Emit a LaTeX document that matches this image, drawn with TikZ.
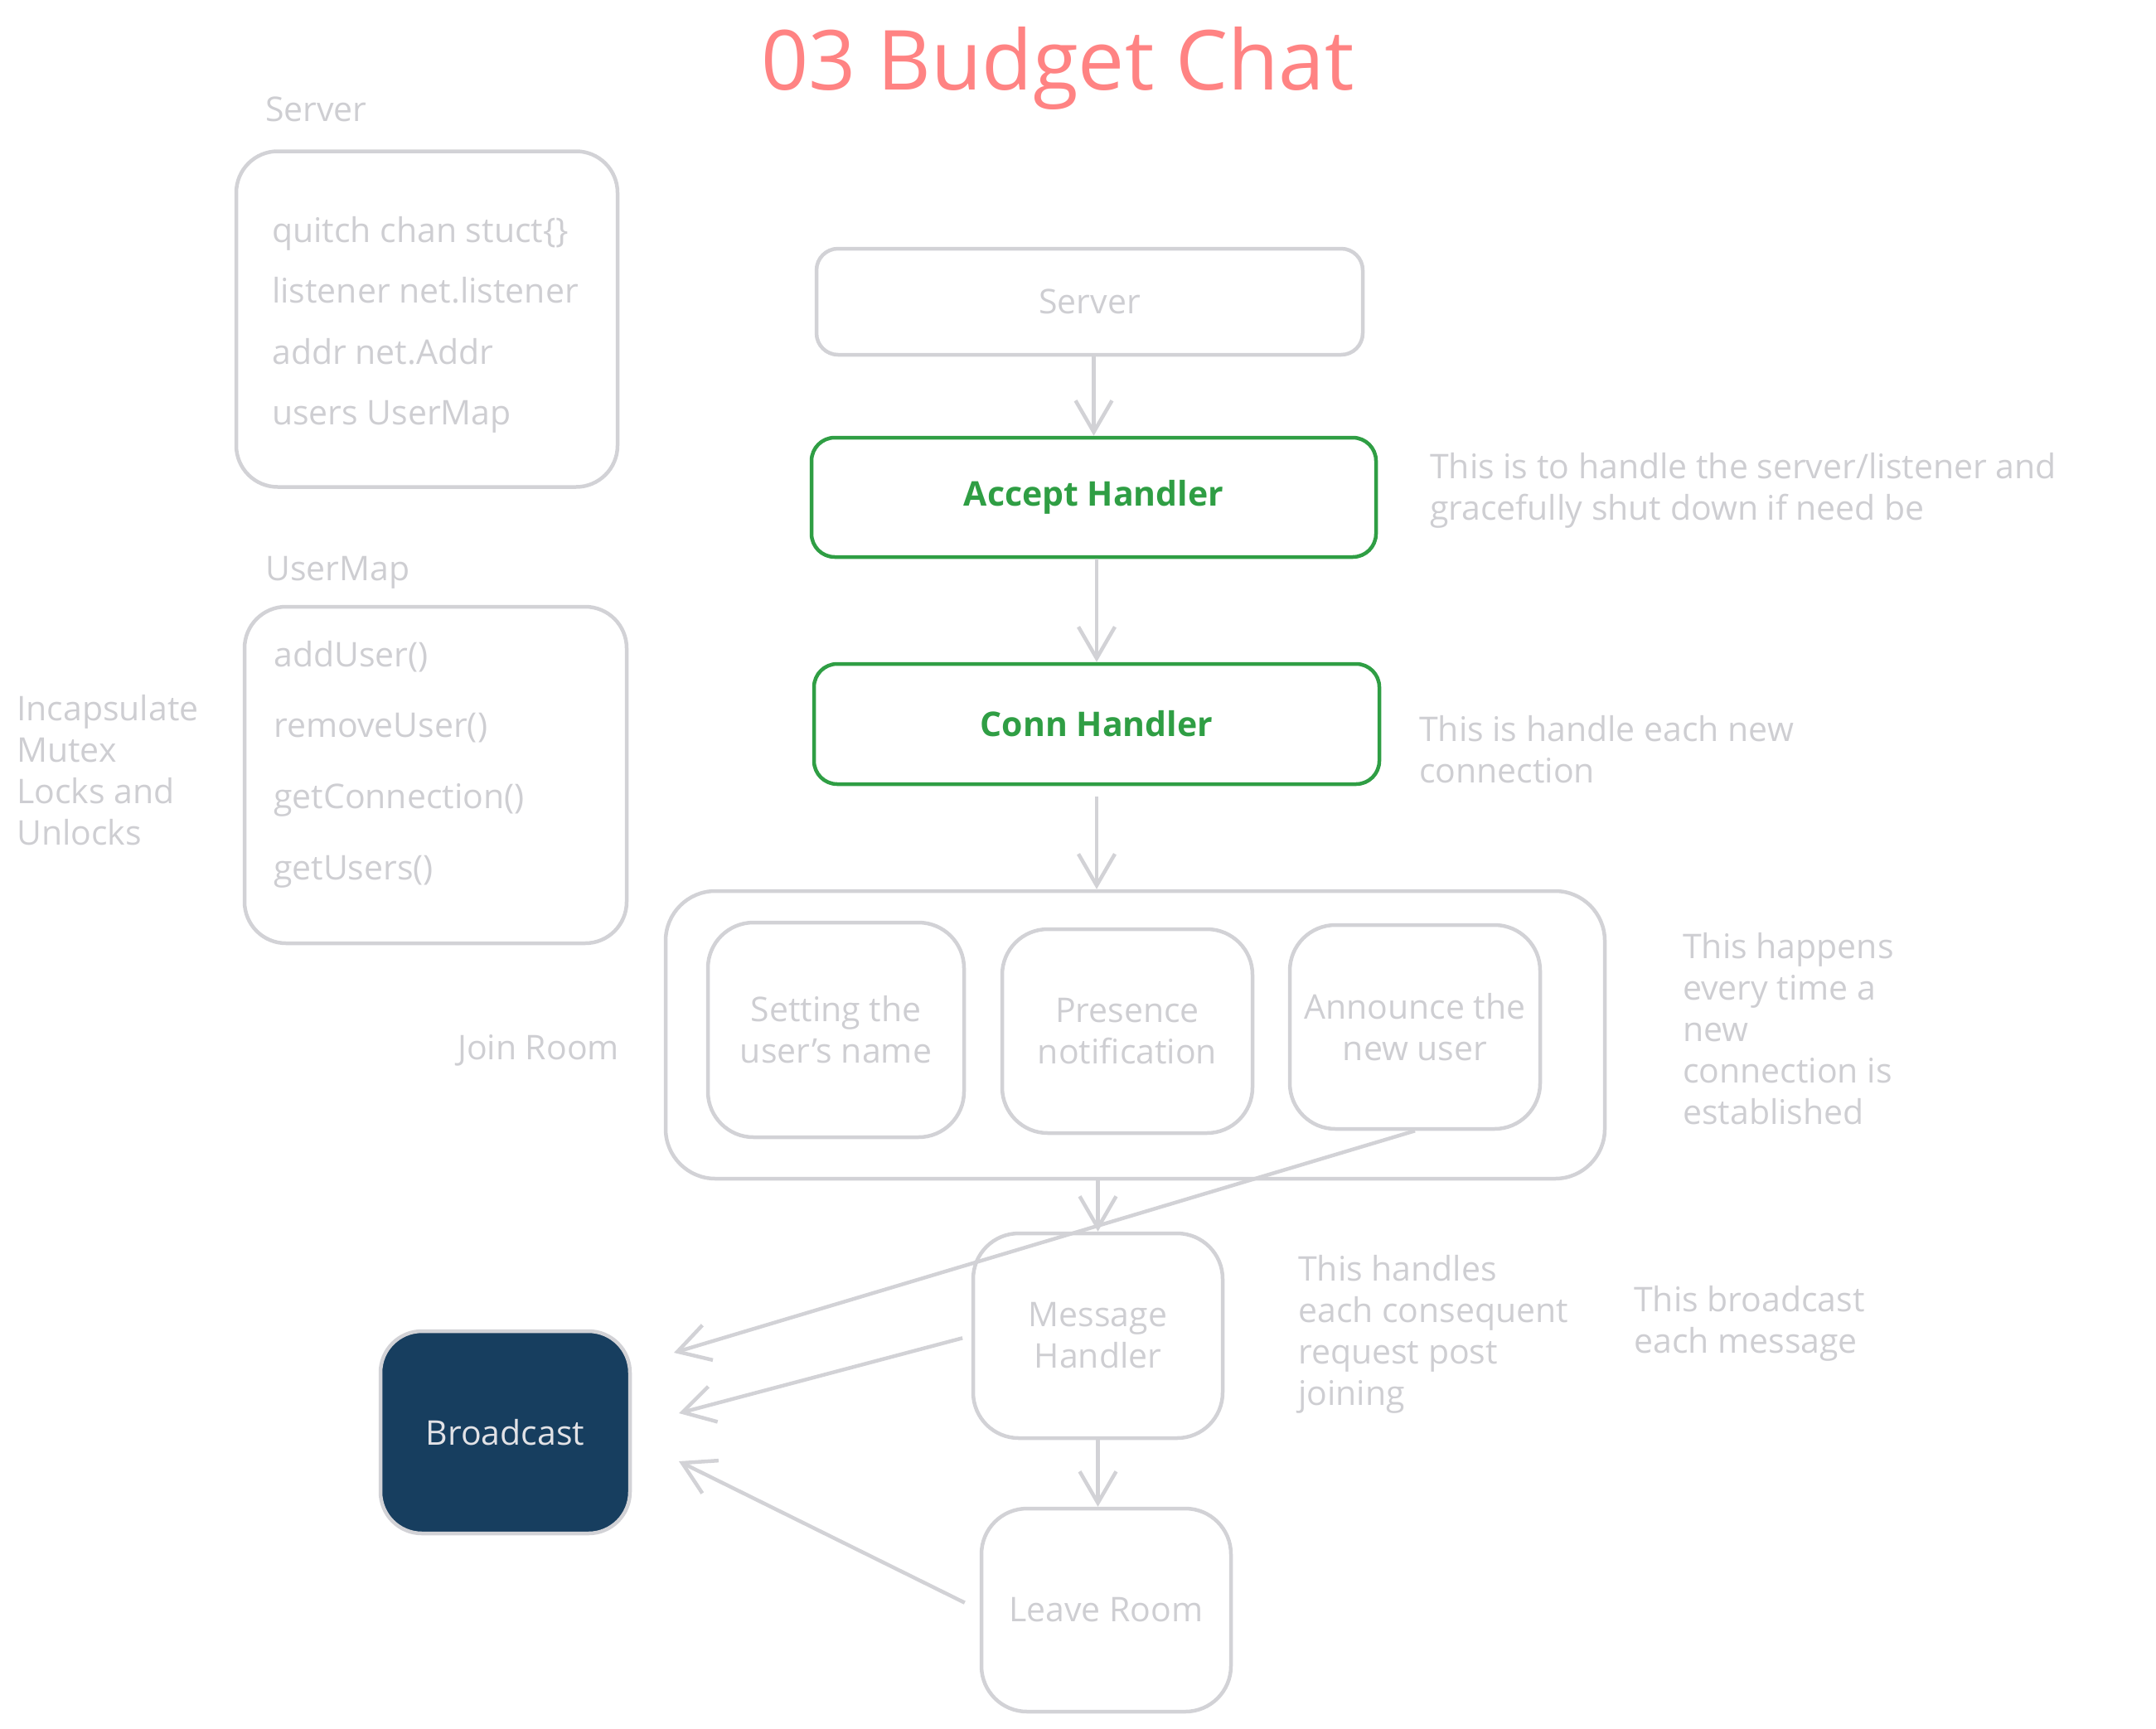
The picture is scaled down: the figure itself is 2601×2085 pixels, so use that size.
\documentclass[tikz,border=0pt]{standalone}
\usepackage{fontspec}
\setmainfont{Open Sans}
\usetikzlibrary{arrows.meta}
\definecolor{gtx}{RGB}{206,206,210}
\definecolor{gline}{RGB}{210,210,214}
\definecolor{ggreen}{RGB}{47,158,68}
\definecolor{titlecol}{RGB}{255,131,131}
\definecolor{navy}{RGB}{23,62,95}
\definecolor{bctext}{RGB}{226,226,230}
\newcommand\mybody{\fontsize{41}{50}\selectfont}
\begin{document}
\begin{tikzpicture}[x=1pt,y=-1pt,
  gbox/.style={draw=gline, line width=4.5pt, rounded corners=50pt, inner sep=0pt, align=center, font=\mybody, text=gtx},
  greenbox/.style={gbox, draw=ggreen, text=ggreen, font=\mybody\bfseries, rounded corners=28pt},
  note/.style={font=\mybody, text=gtx, align=left, anchor=west, inner sep=0pt},
  arr/.style={draw=gline, line width=4.5pt, -{Straight Barb[length=38pt,width=44pt]}}]
\useasboundingbox (0,0) rectangle (2601,2085);

% title
\node[anchor=base, inner sep=0pt, text=titlecol, font=\fontsize{100}{120}\selectfont] (title) at (1276,108) {03 Budget Chat};

% left: Server struct
\node[note, anchor=base west] (srvlabel) at (320,146) {Server};
\node[gbox, minimum width=460pt, minimum height=405pt] (srvS) at (515,385) {};
\node[note, font=\fontsize{41}{73.5}\selectfont] (srvtext) at (328,392)
  {quitch chan stuct\{\}\\listener net.listener\\addr net.Addr\\users UserMap};

% left: UserMap
\node[note, anchor=base west] (umlabel) at (320,700) {UserMap};
\node[gbox, minimum width=461pt, minimum height=406pt] (um) at (525.5,935) {};
\node[note, font=\fontsize{41}{85.7}\selectfont] (umtext) at (330,922)
  {addUser()\\removeUser()\\getConnection()\\getUsers()};
\node[note] (incap) at (20,929) {Incapsulate\\Mutex\\Locks and\\Unlocks};

% main column
\node[gbox, rounded corners=26pt, minimum width=659pt, minimum height=128pt] (mserver) at (1314.5,364) {Server};
\node[greenbox, minimum width=681pt, minimum height=144pt] (accept) at (1319.5,600) {Accept Handler};
\node[greenbox, minimum width=682pt, minimum height=145pt] (conn) at (1323,873.5) {Conn Handler};

\node[gbox, rounded corners=60pt, minimum width=1133pt, minimum height=347pt] (join) at (1369.5,1248.5) {};
\node[gbox, rounded corners=55pt, minimum width=309pt, minimum height=259pt] (set) at (1008.5,1242.5) {Setting the\\user's name};
\node[gbox, rounded corners=55pt, minimum width=302pt, minimum height=246pt] (pres) at (1360,1244) {Presence\\notification};
\node[gbox, rounded corners=55pt, minimum width=302pt, minimum height=246pt] (ann) at (1707,1239) {Announce the\\new user};
\node[note, anchor=center] (joinlabel) at (649.5,1267) {Join Room};

\node[gbox, rounded corners=55pt, minimum width=301pt, minimum height=247pt] (msg) at (1324.5,1611.5) {Message\\Handler};
\node[gbox, rounded corners=55pt, minimum width=301pt, minimum height=245pt] (leave) at (1334.5,1942.5) {Leave Room};
\node[gbox, fill=navy, text=bctext, rounded corners=50pt, minimum width=301pt, minimum height=244pt] (bc) at (609.5,1728) {Broadcast};

% notes
\node[note] (n1) at (1725,592) {This is to handle the server/listener and\\gracefully shut down if need be};
\node[note] (n2) at (1712,904) {This is handle each new\\connection};
\node[note] (n3) at (2030,1241) {This happens\\every time a\\new\\connection is\\established};
\node[note] (n4) at (1566,1610) {This handles\\each consequent\\request post\\joining};
\node[note] (n5) at (1971,1597) {This broadcast\\each message};

% connectors
\draw[arr] (accept.north |- mserver.south) -- (accept.north);
\draw[arr] (conn.north |- accept.south) -- (conn.north);
\draw[arr, shorten <=13pt] (conn.south) -- (conn.south |- join.north);
\draw[arr] (msg.north |- join.south) -- (msg.north);
\draw[arr] (msg.south) -- (msg.south |- leave.north);

\coordinate (b1) at (813,1632);
\coordinate (b2) at (819,1705);
\coordinate (b3) at (819,1763);
\draw[arr] (ann.south) -- (b1);
\draw[arr, shorten <=11pt] (msg.west) -- (b2);
\draw[arr, shorten <=20pt] (leave.west) -- (b3);
\end{tikzpicture}
\end{document}
